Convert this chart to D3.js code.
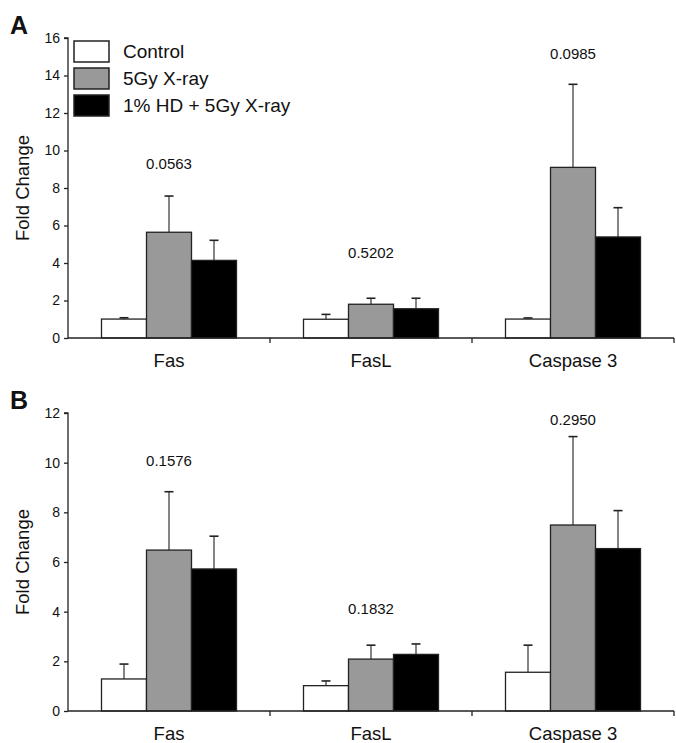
<!DOCTYPE html>
<html><head><meta charset="utf-8">
<script src="https://cdn.jsdelivr.net/npm/d3@7"></script>
<style>body{margin:0;background:#fff}svg{display:block}text{font-family:"Liberation Sans",Arial,sans-serif;fill:#111}</style>
</head><body><svg id="c" width="676" height="743"></svg>
<script>
const categories = ["Fas", "FasL", "Caspase 3"];
const series = ["Control", "5Gy X-ray", "1% HD + 5Gy X-ray"];
const colors = ["#ffffff", "#999999", "#000000"];

// Panel A
const aMeans = [[1.01, 5.64, 4.14], [1.0, 1.80, 1.56], [1.01, 9.10, 5.39]];
const aErrTop = [[1.08, 7.57, 5.21], [1.26, 2.12, 2.12], [1.07, 13.53, 6.95]];
const aPValues = ["0.0563", "0.5202", "0.0985"];
const aPAt = [9.0, 4.25, 14.9];
const aTicks = [0, 2, 4, 6, 8, 10, 12, 14, 16];

// Panel B
const bMeans = [[1.29, 6.48, 5.72], [1.02, 2.09, 2.28], [1.56, 7.49, 6.54]];
const bErrTop = [[1.89, 8.83, 7.04], [1.21, 2.65, 2.70], [2.65, 11.05, 8.07]];
const bPValues = ["0.1576", "0.1832", "0.2950"];
const bPAt = [9.85, 3.9, 11.5];
const bTicks = [0, 2, 4, 6, 8, 10, 12];

const svg = d3.select("#c");
const left = 68, right = 674;
const FONT = '"Liberation Sans",Arial,sans-serif';

function panel(letter, top, bottom, maxV, ticks, means, errTop, pvals, pAt, legend) {
  const g = svg.append("g");
  const y = d3.scaleLinear().domain([0, maxV]).range([bottom, top]);
  const x0 = d3.scaleBand().domain(categories).range([left, right]);
  const bw = x0.bandwidth();
  const x1 = d3.scaleBand().domain(series).range([bw / 2 - 67.5, bw / 2 + 67.5]);

  categories.forEach((c, ci) => {
    series.forEach((s, si) => {
      const bx = x0(c) + x1(s);
      const cx = bx + x1.bandwidth() / 2;
      g.append("line").attr("x1", cx).attr("x2", cx)
        .attr("y1", y(means[ci][si])).attr("y2", y(errTop[ci][si]))
        .attr("stroke", "#333").attr("stroke-width", 1.2);
      g.append("line").attr("x1", cx - 4.5).attr("x2", cx + 4.5)
        .attr("y1", y(errTop[ci][si])).attr("y2", y(errTop[ci][si]))
        .attr("stroke", "#222").attr("stroke-width", 1.6);
      g.append("rect").attr("x", bx).attr("width", x1.bandwidth())
        .attr("y", y(means[ci][si])).attr("height", y(0) - y(means[ci][si]))
        .attr("fill", colors[si]).attr("stroke", "#222").attr("stroke-width", 1.3);
    });
    g.append("text").attr("x", x0(c) + bw / 2).attr("y", y(pAt[ci]))
      .attr("text-anchor", "middle").attr("font-size", 15).text(pvals[ci]);
  });

  const ya = g.append("g").attr("transform", `translate(${left},0)`)
    .call(d3.axisLeft(y).tickValues(ticks).tickSize(4).tickPadding(4).tickFormat(d3.format("d")));
  ya.select(".domain").attr("stroke", "#222").attr("stroke-width", 1.3).attr("d", `M-4,${top}H0V${bottom}`);
  ya.selectAll(".tick line").attr("stroke", "#222").attr("stroke-width", 1.3);
  ya.selectAll(".tick text").attr("font-size", 14).attr("font-family", FONT).attr("fill", "#111");

  const xa = g.append("g").attr("transform", `translate(0,${bottom})`)
    .call(d3.axisBottom(x0).tickSize(0).tickPadding(16));
  xa.select(".domain").attr("stroke", "#222").attr("stroke-width", 1.5).attr("d", `M${left},0H${right}`);
  xa.selectAll(".tick text").attr("font-size", 18.5).attr("font-family", FONT).attr("fill", "#111");
  const bounds = categories.map(c => x0(c) + bw);
  xa.selectAll(".bt").data(bounds).enter().append("line")
    .attr("x1", d => d).attr("x2", d => d).attr("y1", 0).attr("y2", 5)
    .attr("stroke", "#222").attr("stroke-width", 1.3);

  g.append("text").attr("transform", `translate(29,${(top + bottom) / 2}) rotate(-90)`)
    .attr("text-anchor", "middle").attr("font-size", 18.5).text("Fold Change");

  g.append("text").attr("x", 10).attr("y", top - 4).attr("font-size", 25)
    .attr("font-weight", "bold").attr("fill", "#000").text(letter);

  if (legend) {
    series.forEach((s, i) => {
      const ly = top + 3 + i * 27;
      g.append("rect").attr("x", 74).attr("y", ly).attr("width", 35).attr("height", 21)
        .attr("fill", colors[i]).attr("stroke", "#222").attr("stroke-width", 1.5);
      g.append("text").attr("x", 123).attr("y", ly + 17).attr("font-size", 19).text(s);
    });
  }
}

panel("A", 38, 338, 16, aTicks, aMeans, aErrTop, aPValues, aPAt, true);
panel("B", 413, 711, 12, bTicks, bMeans, bErrTop, bPValues, bPAt, false);
</script></body></html>
